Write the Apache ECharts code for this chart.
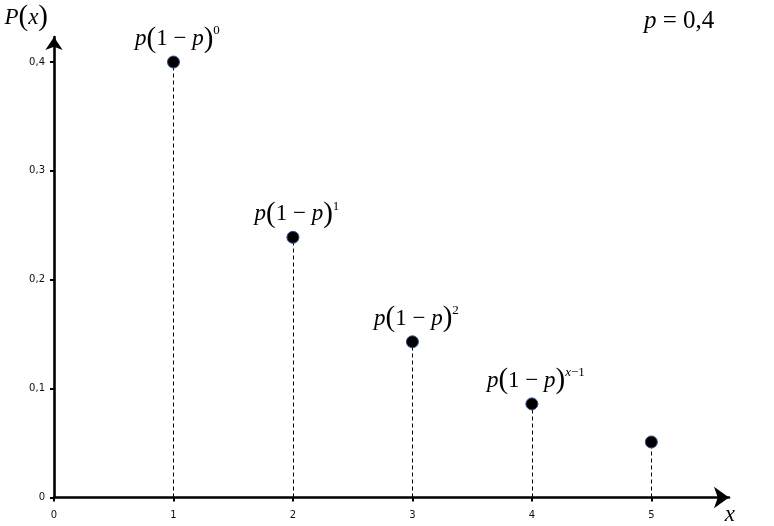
<!DOCTYPE html>
<html><head><meta charset="utf-8">
<script src="https://cdn.jsdelivr.net/npm/echarts@6/dist/echarts.min.js"></script>
<style>html,body{margin:0;padding:0;background:#fff}#c{width:774px;height:526px}</style>
</head><body><div id="c"></div>
<script>
const xValues = [1, 2, 3, 4, 5];
const probValues = [0.4, 0.239, 0.143, 0.086, 0.051];
const exponents = ['0', '1', '2', 'x\u22121', ''];
const xTicks = [0, 1, 2, 3, 4, 5];
const yTicks = [0, 0.1, 0.2, 0.3, 0.4];

const serif = '"Liberation Serif", "Times New Roman", serif';
const rich = {
  it: { fontFamily: serif, fontStyle: 'italic', fontSize: 23, color: '#000' },
  up: { fontFamily: serif, fontSize: 23, color: '#000' },
  big: { fontFamily: serif, fontSize: 25, color: '#000' },
  bigi: { fontFamily: serif, fontStyle: 'italic', fontSize: 25, color: '#000' },
  par: { fontFamily: serif, fontSize: 29, color: '#000' },
  sup: { fontFamily: serif, fontSize: 13, color: '#000', verticalAlign: 'top' },
  supi: { fontFamily: serif, fontStyle: 'italic', fontSize: 13, color: '#000', verticalAlign: 'top' }
};

const chart = echarts.init(document.getElementById('c'));
const tickFont = { fontFamily: '"DejaVu Sans", Verdana, sans-serif', fontSize: 10, color: '#111' };

chart.setOption({
  animation: false,
  backgroundColor: '#fff',
  grid: { left: 54, right: 45, top: 37, bottom: 28.5, containLabel: false, outerBoundsMode: 'none' },
  xAxis: {
    type: 'value', min: 0, max: 5.65,
    splitLine: { show: false },
    name: '{it|x}', nameLocation: 'end', nameGap: 6,
    nameTextStyle: { rich: rich, align: 'right', verticalAlign: 'top', padding: [6, 0, 0, 0] },
    axisLine: { show: true, onZero: false, symbol: ['none', 'arrow'], symbolSize: [16, 15], lineStyle: { color: '#000', width: 2.6 } },
    axisTick: { show: true, length: 4, customValues: xTicks, lineStyle: { color: '#000', width: 2 } },
    axisLabel: Object.assign({ margin: 13, customValues: xTicks, formatter: v => String(v) }, tickFont)
  },
  yAxis: {
    type: 'value', min: 0, max: 0.423,
    splitLine: { show: false },
    name: '{it|P}{par|(}{it|x}{par|)}', nameLocation: 'end', nameGap: 5,
    nameTextStyle: { rich: rich, align: 'right', verticalAlign: 'bottom', padding: [0, 6, 0, 0] },
    axisLine: { show: true, onZero: false, symbol: ['none', 'arrow'], symbolSize: [13, 13], lineStyle: { color: '#000', width: 2.6 } },
    axisTick: { show: true, length: 4, customValues: yTicks, lineStyle: { color: '#000', width: 2 } },
    axisLabel: Object.assign({ margin: 9, customValues: yTicks, formatter: v => String(v).replace('.', ',') }, tickFont)
  },
  series: [{
    type: 'scatter',
    data: xValues.map((x, i) => [x, probValues[i], exponents[i]]),
    symbol: 'circle', symbolSize: 12,
    itemStyle: { color: '#000', borderColor: '#2d5183', borderWidth: 1, opacity: 1 },
    label: {
      show: true, position: 'top', distance: 2, offset: [4, 0], rich: rich,
      formatter: p => {
        const e = p.data[2];
        if (!e) return '';
        const supTxt = e.indexOf('x') === 0 ? '{supi|x}{sup|\u22121}' : '{sup|' + e + '}';
        return '{it|p}{par|(}{up|1 \u2212 }{it|p}{par|)}' + supTxt;
      }
    },
    markLine: {
      silent: true, symbol: ['none', 'none'], animation: false,
      label: { show: false },
      lineStyle: { color: '#000', width: 1, type: [4, 3] },
      data: xValues.map((x, i) => [{ coord: [x, 0] }, { coord: [x, probValues[i]] }])
    },
    z: 5
  }],
  graphic: [{
    type: 'text', left: 644, top: 9,
    style: { text: '{bigi|p}{big| = 0,4}', rich: rich }
  }]
});
</script></body></html>
